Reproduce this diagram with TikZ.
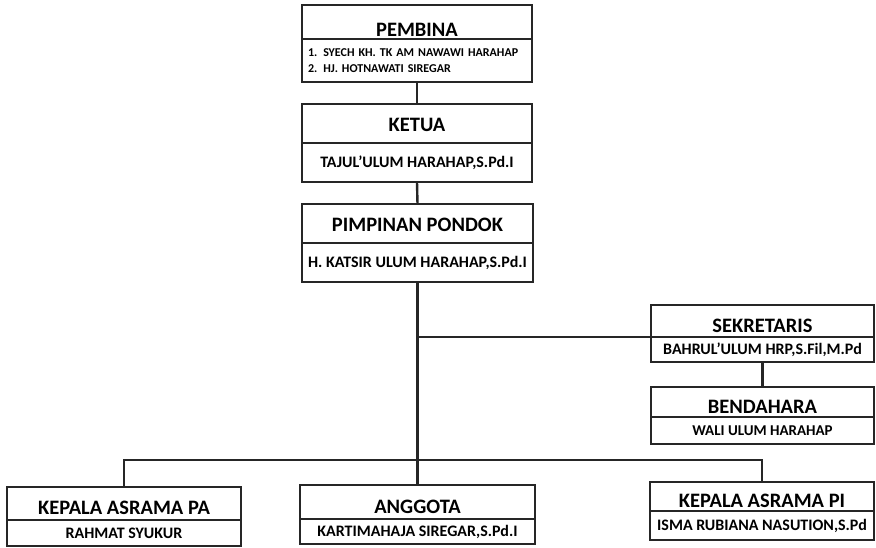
\documentclass[tikz,border=0pt]{standalone}
\usepackage{fontspec}
\setmainfont{Carlito}

\begin{document}
\begin{tikzpicture}[x=1pt, y=-1pt,
    judul/.style={draw=black!85, line width=2.4pt, inner sep=0pt, outer sep=0pt,
      text height=22pt, text depth=0pt,
      anchor=north west, font=\bfseries\fontsize{20.5}{20.5}\selectfont},
    nama/.style={draw=black!85, line width=2.4pt, inner sep=0pt, outer sep=0pt,
      anchor=north, font=\bfseries\fontsize{16}{16}\selectfont},
    garis/.style={draw=black!85, line width=2.4pt}]
    \useasboundingbox (0,0) rectangle (876,548);

    % kotak atas
    \node[judul, minimum width=230pt, minimum height=34pt, text height=29pt] (pembina) at (302,5) {PEMBINA};
    \node[nama, text width=218pt, inner xsep=6pt, minimum height=43pt, align=left,
      font=\bfseries\fontsize{12}{16}\selectfont] (pembinaNm) at (pembina.south)
      {1. SYECH KH. TK AM NAWAWI HARAHAP\\2. HJ. HOTNAWATI SIREGAR};
    \node[judul, minimum width=230pt, minimum height=39pt, text height=16pt] (ketua) at (302,104) {KETUA};
    \node[nama, minimum width=230pt, minimum height=39pt] (ketuaNm) at (ketua.south) {TAJUL'ULUM HARAHAP,S.Pd.I};
    \node[judul, minimum width=231pt, minimum height=39pt, text height=16pt] (pimpinan) at (302,204) {PIMPINAN PONDOK};
    \node[nama, minimum width=231pt, minimum height=39pt] (pimpinanNm) at (pimpinan.south) {H. KATSIR ULUM HARAHAP,S.Pd.I};

    % kotak kanan
    \node[judul, minimum width=223pt, minimum height=32pt] (sekretaris) at (651,305) {SEKRETARIS};
    \node[nama, minimum width=223pt, minimum height=25pt] (sekretarisNm) at (sekretaris.south) {BAHRUL'ULUM HRP,S.Fil,M.Pd};
    \node[judul, minimum width=223pt, minimum height=30pt] (bendahara) at (651,387) {BENDAHARA};
    \node[nama, minimum width=223pt, minimum height=27pt, font=\bfseries\fontsize{15}{15}\selectfont] (bendaharaNm) at (bendahara.south) {WALI ULUM HARAHAP};

    % kotak bawah
    \node[judul, minimum width=234pt, minimum height=33pt] (asramaPa) at (7,487) {KEPALA ASRAMA PA};
    \node[nama, minimum width=234pt, minimum height=26pt] (asramaPaNm) at (asramaPa.south) {RAHMAT SYUKUR};
    \node[judul, minimum width=235pt, minimum height=34pt] (anggota) at (300,485) {ANGGOTA};
    \node[nama, minimum width=235pt, minimum height=25pt] (anggotaNm) at (anggota.south) {KARTIMAHAJA SIREGAR,S.Pd.I};
    \node[judul, minimum width=224pt, minimum height=29pt] (asramaPi) at (650,482) {KEPALA ASRAMA PI};
    \node[nama, minimum width=224pt, minimum height=29pt] (asramaPiNm) at (asramaPi.south) {ISMA RUBIANA NASUTION,S.Pd};

    % garis
    \draw[garis] (pembinaNm.south) -- (ketua.north);
    \draw[garis] (ketuaNm.south) -- (pimpinan.north);
    \draw[garis] (pimpinanNm.south) -- (anggota.north);
    \coordinate (cabang) at (pimpinanNm.south |- sekretaris.south west);
    \draw[garis] (cabang) -- (sekretaris.south west);
    \draw[garis] (sekretarisNm.south) -- (bendahara.north);
    \coordinate (bus) at (pimpinanNm.south |- 0,460);
    \draw[garis] (asramaPa.north) |- (bus) -| (asramaPi.north);
  \end{tikzpicture}
\end{document}
